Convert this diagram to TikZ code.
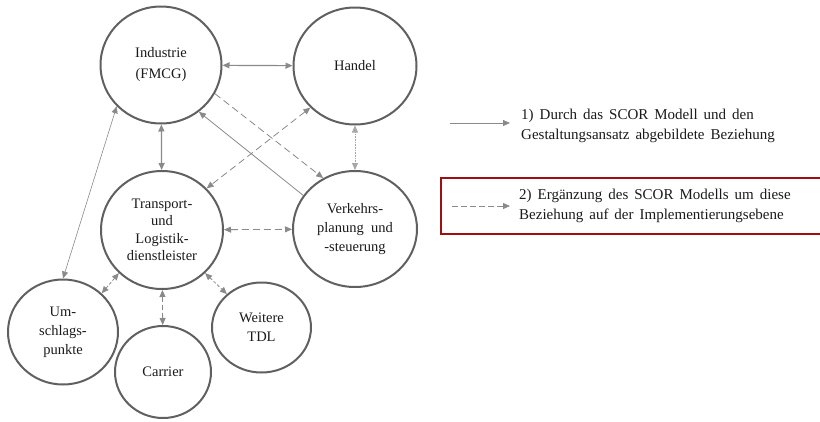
\documentclass[tikz,border=0pt]{standalone}
\usepackage{fontspec}
\setmainfont{Liberation Serif}
\usepackage{tikz}
\usetikzlibrary{positioning}
\usetikzlibrary{shapes,arrows.meta}
\definecolor{ringgray}{HTML}{606060}
\definecolor{linegray}{HTML}{8A8A8A}
\definecolor{boxred}{HTML}{A00F0F}
\definecolor{txt}{HTML}{1A1A1A}
\newcommand{\legfont}{\fontsize{15}{20}\selectfont\spaceskip 0.4em\relax}
\tikzset{
  >={Triangle[length=7pt,width=6pt]},
  actor/.style = {ellipse, draw=ringgray, line width=2pt, inner sep=0pt,
   text=txt, align=center, font=\fontsize{14.5}{19}\selectfont},
  rel/.style = {<->, draw=linegray, line width=0.8pt},
  ext/.style = {<->, draw=linegray, line width=0.8pt, dash pattern=on 7pt off 4pt},
  legtext/.style = {anchor=west, align=left, inner sep=0pt, text=txt,
   font=\legfont},
}
\begin{document}
\begin{tikzpicture}[x=1pt,y=-1pt]
\useasboundingbox (0,0) rectangle (820,421);
\node at(161,65) (ind) [actor, minimum width=121pt, minimum height=117pt] {Industrie\\[2pt](FMCG)};
\node at(355,66) (han) [actor, minimum width=123pt, minimum height=117pt] {Handel};
\node at(162,230) (tra) [actor, minimum width=122pt, minimum height=118pt, font=\fontsize{14.5}{17.5}\selectfont] {Transport-\\und\\Logistik-\\dienstleister};
\node at(355,229) (ver) [actor, minimum width=124pt, minimum height=116pt] {Verkehrs-\\planung\ \ und\\-steuerung};
\node at(63,332) (ums) [actor, minimum width=110pt, minimum height=105pt] {Um-\\schlags-\\punkte};
\node at(163,372) (car) [actor, minimum width=96pt, minimum height=92pt] {Carrier};
\node at(261.5,327.5) (wei) [actor, minimum width=99pt, minimum height=90pt] {Weitere\\TDL};
\draw[rel, line width=1.2pt] (ind) -- (han);
\draw[rel, line width=1.2pt] (ind) -- (tra);
\draw[rel, draw=linegray!75, dash pattern=on 1pt off 0.6pt] (han) -- (ver);
\draw[ext, ->] (ind.-28) -- (ver.122);
\draw[rel, ->] (ver.147) -- (ind.-51);
\draw[ext] (han.223) -- (tra.43);
\draw[ext] (tra) -- (ver);
\draw[rel, line width=0.6pt] (ind.223) -- (ums.north);
\draw[ext, dash pattern=on 3pt off 2pt] (tra.225) -- (ums.45);
\draw[ext, dash pattern=on 5pt off 3pt] (tra) -- (car);
\draw[ext, dash pattern=on 3pt off 2pt] (tra.-45) -- (wei.136);
\coordinate (s1) at (450,123);
\coordinate (e1) at (510,123);
\coordinate (s2) at (452,206);
\coordinate (e2) at (510,206);
\draw[rel, ->] (s1) -- (e1);
\draw[ext, ->, dash pattern=on 6pt off 3pt] (s2) -- (e2);
\node at(521,126) (leg1) [legtext] {1) Durch das SCOR Modell und den\\Gestaltungsansatz abgebildete Beziehung};
\node at(519,206) (leg2) [legtext] {2) Ergänzung des SCOR Modells um diese\\Beziehung auf der Implementierungsebene};
\draw[boxred, line width=2.2pt] (820,178) -| (441,234) -- (820,234);
\end{tikzpicture}
\end{document}
